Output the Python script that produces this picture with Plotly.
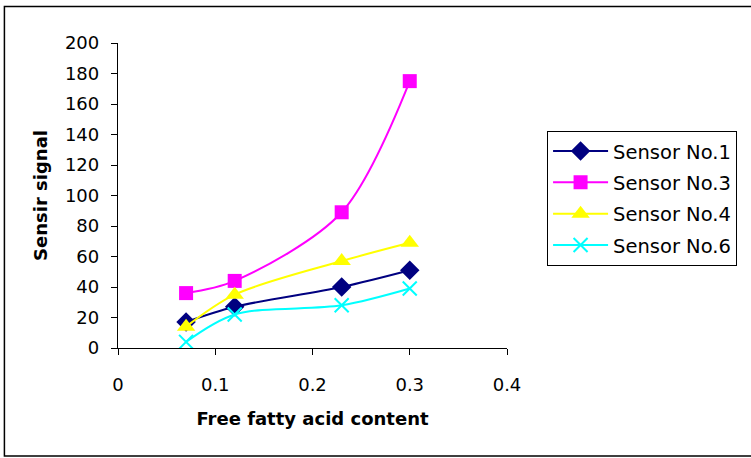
import plotly.graph_objects as go

# Free fatty acid content (x) and sensor responses
ffa = [0.07, 0.12, 0.23, 0.30]
sensor_1 = [17, 27, 40, 51]
sensor_3 = [36, 44, 89, 175]
sensor_4 = [14, 35, 57, 69]
sensor_6 = [4, 22, 28, 39]

series = [
    ("Sensor No.1", sensor_1, "#000080", "diamond", 15, 0),
    ("Sensor No.3", sensor_3, "#FF00FF", "square", 14, 0),
    ("Sensor No.4", sensor_4, "#FFFF00", "triangle-up", 16, 0),
    ("Sensor No.6", sensor_6, "#00FFFF", "x-thin", 14, 2),
]

FONT = "DejaVu Sans"

fig = go.Figure()
for name, vals, color, sym, size, lw in series:
    fig.add_trace(go.Scatter(
        x=ffa, y=vals, name=name, legendgroup=name,
        mode="lines+markers",
        line=dict(color=color, width=2, shape="spline", smoothing=0.9),
        marker=dict(symbol=sym, size=size, color=color,
                    line=dict(color=color, width=lw)),
    ))

axis_common = dict(
    showline=True, linecolor="black", linewidth=1.3,
    ticks="outside", ticklen=6, tickcolor="black", tickwidth=1,
    showgrid=False, zeroline=False,
    tickfont=dict(family=FONT, size=18, color="black"),
)

fig.update_layout(
    width=751, height=458,
    margin=dict(l=118, r=244, t=43, b=110),
    paper_bgcolor="white", plot_bgcolor="white",
    font=dict(family=FONT, color="black"),
    xaxis=dict(range=[0, 0.4], tickvals=[0, 0.1, 0.2, 0.3, 0.4],
               ticktext=["0", "0.1", "0.2", "0.3", "0.4"],
               ticklabelstandoff=14,
               title=dict(text="<b>Free fatty acid content</b>",
                          font=dict(family=FONT, size=18), standoff=18),
               **axis_common),
    yaxis=dict(range=[0, 200], dtick=20, ticklabelstandoff=8,
               title=dict(text="<b>Sensir signal</b>",
                          font=dict(family=FONT, size=18), standoff=12),
               **axis_common),
    legend=dict(x=1.103, y=0.712, xanchor="left", yanchor="top",
                bgcolor="white", bordercolor="black", borderwidth=1,
                font=dict(family=FONT, size=19.5, color="black"),
                traceorder="grouped", tracegroupgap=3,
                itemwidth=55),
    showlegend=True,
)

# Outer frame around the whole chart
fig.add_shape(type="rect", xref="paper", yref="paper",
              x0=-0.292, x1=1.7, y0=-0.354, y1=1.12,
              line=dict(color="black", width=1.5), fillcolor="rgba(0,0,0,0)",
              layer="below")

fig.write_html("out.html")
